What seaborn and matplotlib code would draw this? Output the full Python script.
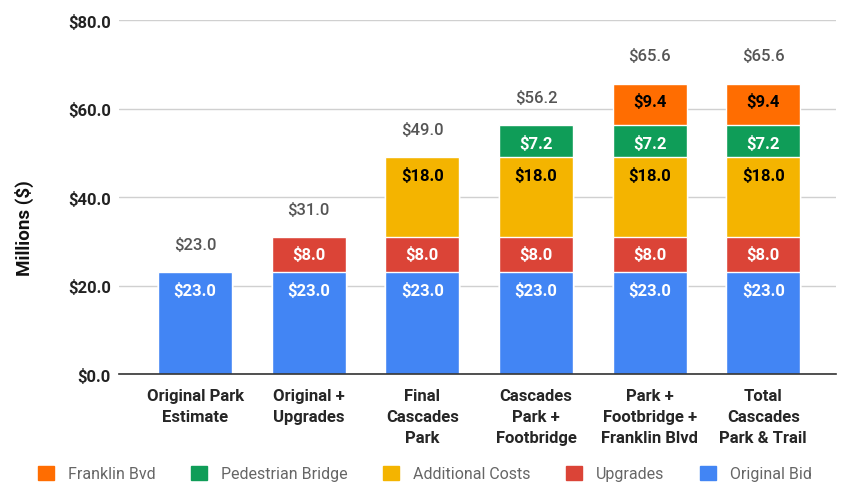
import matplotlib
matplotlib.use("Agg")
import matplotlib.pyplot as plt
import numpy as np
import pandas as pd
import seaborn as sns

categories = ["Original Park\nEstimate", "Original +\nUpgrades", "Final\nCascades\nPark",
              "Cascades\nPark +\nFootbridge", "Park +\nFootbridge +\nFranklin Blvd",
              "Total\nCascades\nPark & Trail"]
original_bid = [23.0, 23.0, 23.0, 23.0, 23.0, 23.0]
upgrades = [0.0, 8.0, 8.0, 8.0, 8.0, 8.0]
additional_costs = [0.0, 0.0, 18.0, 18.0, 18.0, 18.0]
pedestrian_bridge = [0.0, 0.0, 0.0, 7.2, 7.2, 7.2]
franklin_bvd = [0.0, 0.0, 0.0, 0.0, 9.4, 9.4]

series = [("Original Bid", original_bid, "#4285F4", "white"),
          ("Upgrades", upgrades, "#DB4437", "white"),
          ("Additional Costs", additional_costs, "#F4B400", "black"),
          ("Pedestrian Bridge", pedestrian_bridge, "#0F9D58", "white"),
          ("Franklin Bvd", franklin_bvd, "#FF6D01", "black")]

sns.set_style("white")
plt.rcParams["font.family"] = ["Roboto", "DejaVu Sans"]

fig = plt.figure(figsize=(8.41, 4.85), dpi=100)
ax = fig.add_axes([0.1415, 0.2268, 0.8525, 0.7299])

df = pd.DataFrame({"category": categories})
bottoms = np.zeros(len(categories))
tops = []
for name, vals, color, tcol in series:
    tops.append(bottoms + np.array(vals))
    bottoms = tops[-1]

# draw cumulative heights from the top layer down so lower layers overlap
handles = {}
for (name, vals, color, tcol), top in reversed(list(zip(series, tops))):
    d = df.assign(value=top)
    sns.barplot(data=d, x="category", y="value", color=color, width=0.65,
                saturation=1, ax=ax, zorder=2)
    handles[name] = plt.Rectangle((0, 0), 1, 1, color=color)

# segment labels
for (name, vals, color, tcol), top in zip(series, tops):
    for i, v in enumerate(vals):
        if v > 0:
            ax.annotate(f"${v:.1f}", (i, top[i]), xytext=(0, -12.5),
                        textcoords="offset points", ha="center", va="center",
                        fontsize=12, fontweight="bold", color=tcol, zorder=5)

# totals
for i, t in enumerate(tops[-1]):
    ax.annotate(f"${t:.1f}", (i, t), xytext=(0, 20), textcoords="offset points",
                ha="center", va="center", fontsize=12, color="#555555",
                fontweight="medium")

ax.set_ylim(0, 80)
ax.set_xlim(-0.67, 5.64)
ax.set_yticks([0, 20, 40, 60, 80])
ax.set_yticklabels([f"${v:.1f}" for v in [0, 20, 40, 60, 80]])
ax.yaxis.grid(True, color="#d0d0d0", linewidth=1)
ax.set_axisbelow(True)
for s in ["top", "right", "left"]:
    ax.spines[s].set_visible(False)
ax.spines["bottom"].set_color("#333333")
ax.spines["bottom"].set_linewidth(1.2)
ax.spines["bottom"].set_zorder(6)
ax.tick_params(axis="both", length=0)
ax.tick_params(axis="y", pad=6, labelsize=12, labelcolor="#222222")
ax.set_xticks(range(len(categories)))
ax.set_xticklabels(categories, fontsize=12, fontweight="bold", linespacing=1.52)
ax.tick_params(axis="x", pad=10)
for lab in ax.get_yticklabels():
    lab.set_fontweight("bold")
ax.set_xlabel("")
ax.set_ylabel("")
fig.text(24 / 841, 1 - 228 / 485, "Millions ($)", rotation=90, ha="center",
         va="center", fontsize=13.5, fontweight="bold", color="#111111")

order = ["Franklin Bvd", "Pedestrian Bridge", "Additional Costs", "Upgrades", "Original Bid"]
leg = fig.legend([handles[n] for n in order], order, loc="center", ncol=5,
                 bbox_to_anchor=(0.505, 0.022), frameon=False, fontsize=11.5,
                 handlelength=1.0, handleheight=1.0, columnspacing=2.2,
                 handletextpad=0.9)
for t in leg.get_texts():
    t.set_color("#666666")

fig.savefig("out.png", dpi=100)
